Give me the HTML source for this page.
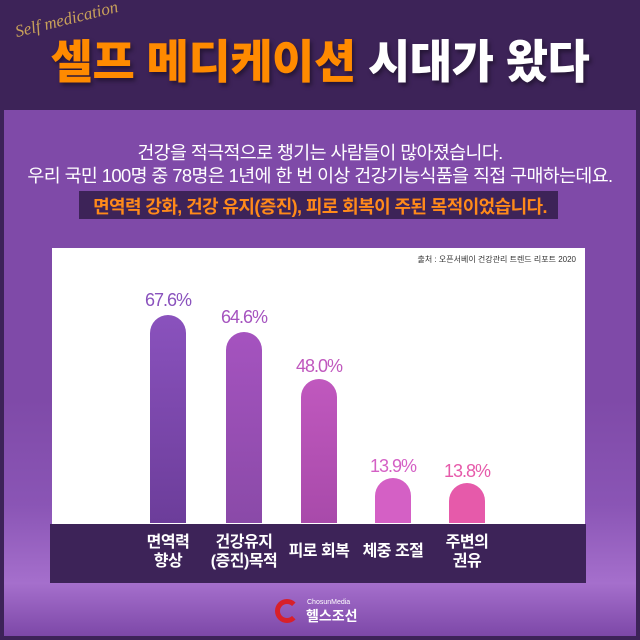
<!DOCTYPE html>
<html><head><meta charset="utf-8"><style>
*{margin:0;padding:0;box-sizing:border-box}
body{width:640px;height:640px;overflow:hidden;background:#3d2358;font-family:"Liberation Sans","Noto Sans CJK KR",sans-serif;position:relative}
.abs{position:absolute}
.panel{left:4px;top:110px;width:632px;height:526px;background:linear-gradient(#7f4aa8 0%,#7f4aa8 55%,#8a55b5 75%,#a56fcc 90%,#7d48a8 100%)}
.title{top:26px;left:0;width:640px;text-align:center;font-size:46px;font-weight:900;letter-spacing:-0.5px;text-shadow:2px 3px 4px rgba(0,0,0,.4)}
.sub{width:640px;text-align:center;color:#fff;font-size:18.4px;letter-spacing:-0.6px}
.white{left:52px;top:248px;width:533px;height:276px;background:#fff}
.band{left:50px;top:524px;width:536px;height:59px;background:#3d2358}
.bar{width:36px;border-radius:18px 18px 0 0}
.val{width:90px;text-align:center;font-size:18px;letter-spacing:-1px}
.cat{width:90px;text-align:center;color:#fff;font-size:16px;font-weight:bold;line-height:19px;letter-spacing:-0.5px}
</style></head><body>
<div class="abs panel"></div>
<div class="abs title"><span style="color:#ff8a00">셀프 메디케이션</span> <span style="color:#fff">시대가 왔다</span></div>
<div class="abs" style="left:18px;top:22px;font-family:'Liberation Serif',serif;font-style:italic;color:#c9a15a;font-size:17px;transform:rotate(-14deg);transform-origin:left bottom">Self medication</div>
<div class="abs sub" style="top:139px">건강을 적극적으로 챙기는 사람들이 많아졌습니다.</div>
<div class="abs sub" style="top:162px">우리 국민 100명 중 78명은 1년에 한 번 이상 건강기능식품을 직접 구매하는데요.</div>
<div class="abs" style="left:79px;top:191px;width:479px;height:28px;background:#3d2358"></div>
<div class="abs sub" style="top:193px;color:#ff8a1a;font-weight:bold;font-size:18px">면역력 강화, 건강 유지(증진), 피로 회복이 주된 목적이었습니다.</div>
<div class="abs white"></div>
<div class="abs" style="right:64px;top:254px;font-size:8px;color:#333">출처 : 오픈서베이 건강관리 트렌드 리포트 2020</div>
<div class="abs band"></div>
<div class="abs bar" style="left:150px;top:315px;height:208px;background:linear-gradient(#8a52bd,#6c3d9a)"></div>
<div class="abs bar" style="left:226px;top:332px;height:191px;background:linear-gradient(#a553bf,#8a4aa8)"></div>
<div class="abs bar" style="left:301px;top:379px;height:144px;background:linear-gradient(#c058be,#a84aaa)"></div>
<div class="abs bar" style="left:375px;top:478px;height:45px;background:#d460c5"></div>
<div class="abs bar" style="left:449px;top:483px;height:40px;background:#e65aaa"></div>
<div class="abs val" style="left:123px;top:290px;color:#8a52bd">67.6%</div>
<div class="abs val" style="left:199px;top:307px;color:#a553bf">64.6%</div>
<div class="abs val" style="left:274px;top:356px;color:#c058be">48.0%</div>
<div class="abs val" style="left:348px;top:456px;color:#d460c5">13.9%</div>
<div class="abs val" style="left:422px;top:461px;color:#e65aaa">13.8%</div>
<div class="abs cat" style="left:123px;top:533px">면역력<br>향상</div>
<div class="abs cat" style="left:199px;top:533px">건강유지<br>(증진)목적</div>
<div class="abs cat" style="left:274px;top:542px">피로 회복</div>
<div class="abs cat" style="left:348px;top:542px">체중 조절</div>
<div class="abs cat" style="left:422px;top:533px">주변의<br>권유</div>
<div class="abs" style="left:275px;top:599px;width:24px;height:24px;border-radius:50%;border:5px solid #d8202a;border-right-color:transparent"></div>
<div class="abs" style="left:307px;top:599px;font-size:7px;color:#fff">ChosunMedia</div>
<div class="abs" style="left:306px;top:606px;font-size:14px;font-weight:bold;color:#fff">헬스조선</div>
</body></html>
